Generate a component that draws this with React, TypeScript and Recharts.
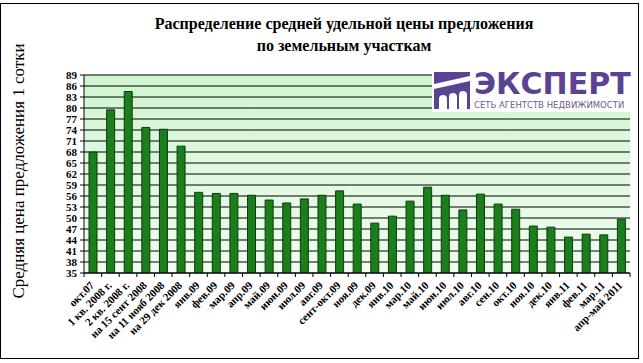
import React from 'react';
import { Bar, BarChart, CartesianGrid, XAxis, YAxis } from 'recharts';

// periods as printed under the axis
const categories = [
  'окт.07', '1 кв. 2008 г.', '2 кв. 2008 г.', 'на 15 сент 2008', 'на 11 нояб 2008',
  'на 29 дек 2008', 'янв.09', 'фев.09', 'мар.09', 'апр.09', 'май.09', 'июн.09',
  'июл.09', 'авг.09', 'сент-окт.09', 'ноя.09', 'дек.09', 'янв.10', 'мар.10',
  'май.10', 'июн.10', 'июл.10', 'авг.10', 'сен.10', 'окт.10', 'ноя.10', 'дек.10',
  'янв.11', 'фев.11', 'мар.11', 'апр-май 2011',
];

// average offer price per 1 sotka
const prices = [
  68, 79.5, 84.5, 74.7, 74.2, 69.6, 57, 56.7, 56.7, 56.2, 54.9, 54.1,
  55.2, 56.2, 57.4, 53.8, 48.6, 50.5, 54.6, 58.4, 56.2, 52.2, 56.5, 53.8,
  52.4, 47.8, 47.5, 44.8, 45.6, 45.4, 49.7,
];

const yTicks = [35, 38, 41, 44, 47, 50, 53, 56, 59, 62, 65, 68, 71, 74, 77, 80, 83, 86, 89];

const W = 643;
const H = 363;
const MARGIN = { top: 75, right: 13, bottom: 0, left: 0 };
const Y_WIDTH = 84;
const X_HEIGHT = 90;
const HALF_BAND = (W - Y_WIDTH - MARGIN.right) / categories.length / 2;
const SERIF = '"Liberation Serif", "Times New Roman", serif';

const data = categories.map((name, i) => ({ name, price: prices[i] }));

function XTick(props: any) {
  const { x, y, payload, index } = props;
  const tx = x + 2;
  const ty = y + 13;
  return (
    <g>
      <line x1={x - HALF_BAND} y1={y} x2={x - HALF_BAND} y2={y + 4} stroke="#000" />
      {index === categories.length - 1 && (
        <line x1={x + HALF_BAND} y1={y} x2={x + HALF_BAND} y2={y + 4} stroke="#000" />
      )}
      <text
        x={tx}
        y={ty}
        transform={`rotate(-45 ${tx} ${ty})`}
        textAnchor="end"
        fontFamily={SERIF}
        fontWeight="bold"
        fontSize={11}
        fill="#000"
      >
        {payload.value}
      </text>
    </g>
  );
}

function Logo() {
  return (
    <div
      style={{
        position: 'absolute',
        left: 432,
        top: 70,
        width: 200,
        height: 42,
        background: '#fff',
      }}
    >
      <svg width={38} height={38} style={{ position: 'absolute', left: 2, top: 2 }}>
        <rect x={0} y={0} width={36} height={37} fill="#5b4394" />
        <path d="M0 12 L36 4 L36 9 L0 17 Z" fill="#fff" />
        <path d="M5 37 V27 a4 4 0 0 1 8 0 V37 Z" fill="#fff" />
        <path d="M15 37 V25 a4 4 0 0 1 8 0 V37 Z" fill="#fff" />
        <path d="M25 37 V23 a4 4 0 0 1 8 0 V37 Z" fill="#fff" />
      </svg>
      <div
        style={{
          position: 'absolute',
          left: 42,
          top: 1,
          fontFamily: '"DejaVu Sans", sans-serif',
          fontWeight: 'bold',
          fontSize: 30,
          lineHeight: '26px',
          color: '#5b4394',
          whiteSpace: 'nowrap',
        }}
      >
        ЭКСПЕРТ
      </div>
      <div
        style={{
          position: 'absolute',
          left: 42,
          top: 30,
          fontFamily: '"DejaVu Sans", sans-serif',
          fontSize: 8.5,
          lineHeight: '10px',
          color: '#6b5d8c',
          whiteSpace: 'nowrap',
        }}
      >
        СЕТЬ АГЕНТСТВ НЕДВИЖИМОСТИ
      </div>
    </div>
  );
}

export default function App() {
  return (
    <div style={{ position: 'absolute', left: 0, top: 0, width: W, height: H, background: '#fff' }}>
      <div
        style={{
          position: 'absolute',
          left: 0,
          top: 3,
          width: 639,
          height: 356,
          border: '1px solid #000',
          boxSizing: 'border-box',
        }}
      />
      <div style={{ position: 'absolute', left: 0, top: 0 }}>
        <BarChart width={W} height={H} data={data} margin={MARGIN}>
          <CartesianGrid vertical={false} stroke="#000" fill="url(#plotBg)" fillOpacity={1} />
          <XAxis
            dataKey="name"
            interval={0}
            height={X_HEIGHT}
            tickLine={false}
            tickSize={0}
            tickMargin={0}
            axisLine={{ stroke: '#000' }}
            tick={<XTick />}
          />
          <YAxis
            domain={[35, 89]}
            ticks={yTicks}
            interval={0}
            allowDataOverflow
            width={Y_WIDTH}
            tickSize={4}
            tickMargin={3}
            axisLine={{ stroke: '#000' }}
            tickLine={{ stroke: '#000' }}
            tick={{ fontFamily: SERIF, fontWeight: 'bold', fontSize: 11, fill: '#000' }}
          />
          <Bar
            dataKey="price"
            fill="#1b7d1b"
            stroke="#0b3d0b"
            strokeWidth={1}
            barSize={8}
            isAnimationActive={false}
          />
        </BarChart>
      </div>
      <svg
        width={W}
        height={H}
        style={{ position: 'absolute', left: 0, top: 0, pointerEvents: 'none' }}
      >
        <defs>
          <linearGradient id="plotBg" x1="0" y1="0" x2="0" y2="1">
            <stop offset="0%" stopColor="#d0f4d0" />
            <stop offset="100%" stopColor="#f0fdf0" />
          </linearGradient>
        </defs>
        <text
          x={344}
          y={29}
          textAnchor="middle"
          fontFamily={SERIF}
          fontWeight="bold"
          fontSize={16}
          fill="#000"
        >
          Распределение средней удельной цены предложения
        </text>
        <text
          x={344}
          y={51}
          textAnchor="middle"
          fontFamily={SERIF}
          fontWeight="bold"
          fontSize={16}
          fill="#000"
        >
          по земельным участкам
        </text>
        <text
          x={0}
          y={0}
          transform="translate(24 171) rotate(-90)"
          textAnchor="middle"
          fontFamily={SERIF}
          fontSize={17}
          fill="#000"
        >
          Средняя цена предложения 1 сотки
        </text>
      </svg>
      <Logo />
    </div>
  );
}
